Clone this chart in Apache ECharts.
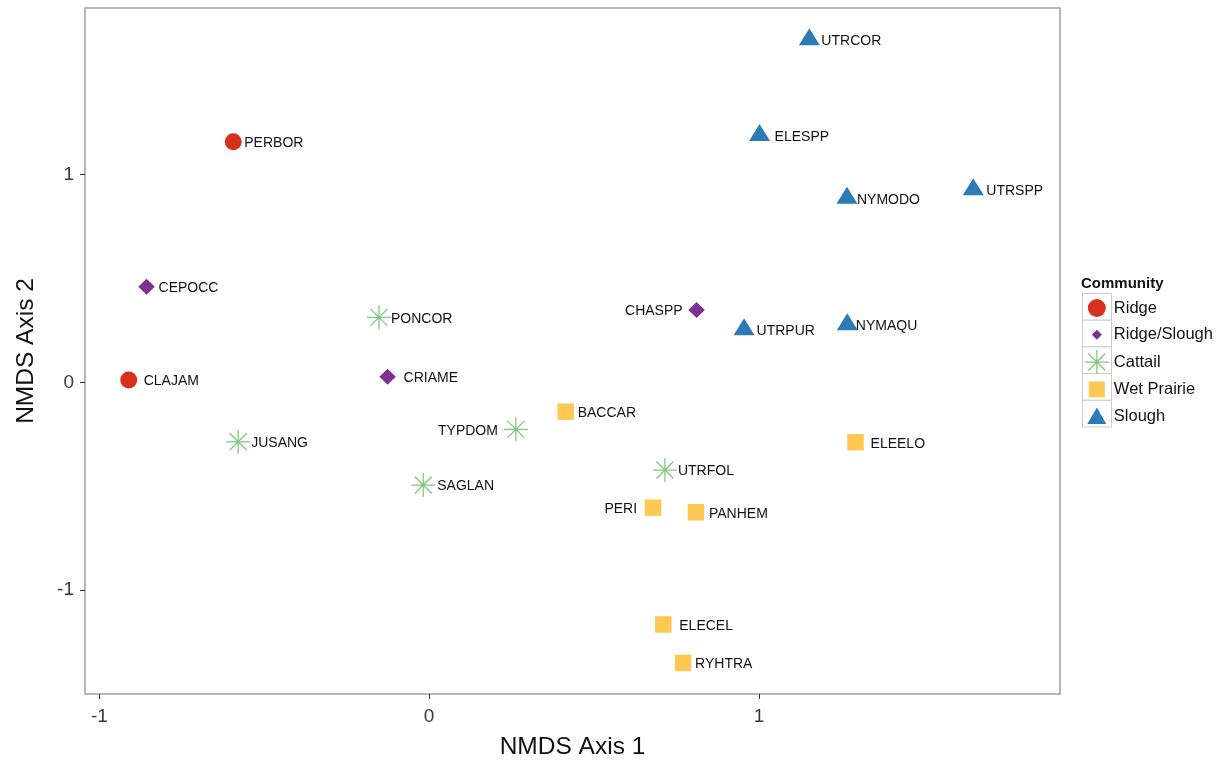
<!DOCTYPE html>
<html>
<head>
<meta charset="utf-8">
<script src="https://cdn.jsdelivr.net/npm/echarts@6/dist/echarts.min.js"></script>
<style>
html,body{margin:0;padding:0;background:#fff;}
#chart{width:1221px;height:761px;}
</style>
</head>
<body>
<div id="chart"></div>
<script>
// ---- data ----
const communities = ['Ridge', 'Ridge/Slough', 'Cattail', 'Wet Prairie', 'Slough'];
const species = ['PERBOR','CLAJAM','CEPOCC','CRIAME','CHASPP','PONCOR','JUSANG','TYPDOM','SAGLAN','UTRFOL',
                 'BACCAR','ELEELO','PERI','PANHEM','ELECEL','RYHTRA','UTRCOR','ELESPP','NYMODO','UTRSPP','UTRPUR','NYMAQU'];
const axis1 = [-0.594,-0.911,-0.857,-0.126,0.811,-0.152,-0.579,0.263,-0.018,0.715,
               0.414,1.293,0.679,0.809,0.710,0.770,1.153,1.002,1.267,1.650,0.955,1.268];
const axis2 = [1.159,0.012,0.461,0.027,0.349,0.313,-0.286,-0.226,-0.494,-0.422,
               -0.141,-0.288,-0.603,-0.625,-1.165,-1.350,1.651,1.189,0.888,0.929,0.255,0.279];
const community = ['Ridge','Ridge','Ridge/Slough','Ridge/Slough','Ridge/Slough','Cattail','Cattail','Cattail','Cattail','Cattail',
                   'Wet Prairie','Wet Prairie','Wet Prairie','Wet Prairie','Wet Prairie','Wet Prairie',
                   'Slough','Slough','Slough','Slough','Slough','Slough'];
const tickValues = [-1, 0, 1];
const xTitle = 'NMDS Axis 1';
const yTitle = 'NMDS Axis 2';
const legendTitle = 'Community';

// ---- styling ----
const FONT = '"Liberation Sans", Arial, sans-serif';
const colors = {'Ridge':'#d7301f','Ridge/Slough':'#7b3294','Cattail':'#7fc97f','Wet Prairie':'#fec853','Slough':'#2c7bb6'};
const asterisk = 'path://M0,12 L24,12 M12,0 L12,24 M3.5,3.5 L20.5,20.5 M20.5,3.5 L3.5,20.5';
const symbols = {
  'Ridge': {symbol:'circle', size:17, offset:[0,0]},
  'Ridge/Slough': {symbol:'diamond', size:[16.5,16], offset:[0,0]},
  'Cattail': {symbol:asterisk, size:24, offset:[0,0]},
  'Wet Prairie': {symbol:'rect', size:16.5, offset:[0,0]},
  'Slough': {symbol:'triangle', size:[21,17], offset:[0,-2.83]}
};
// horizontal label nudge (px) from point; negative = label on the left
const labelDx = {PERBOR:11,CLAJAM:15,CEPOCC:12,CRIAME:16,CHASPP:-14,PONCOR:12,JUSANG:13,TYPDOM:-18,SAGLAN:14,UTRFOL:13,
  BACCAR:12,ELEELO:15,PERI:-16,PANHEM:13,ELECEL:16,RYHTRA:12,UTRCOR:12,ELESPP:15,NYMODO:10,UTRSPP:13,UTRPUR:12.5,NYMAQU:8.5};
const legendIcons = {
  'Ridge':'path://M0,0 M24,24 M3,12 A9,9 0 1,1 21,12 A9,9 0 1,1 3,12 Z',
  'Ridge/Slough':'path://M0,0 M24,24 M12,7 L17,12 L12,17 L7,12 Z',
  'Cattail':asterisk,
  'Wet Prairie':'path://M0,0 M24,24 M4,4 L20,4 L20,20 L4,20 Z',
  'Slough':'path://M0,0 M24,24 M12,3.5 L21.5,20 L2.5,20 Z'
};

const series = communities.map(function(c){
  const s = symbols[c];
  const data = [];
  species.forEach(function(n, i){
    if (community[i] !== c) return;
    const dx = labelDx[n];
    const dy = 1.5 - s.offset[1] + (c === 'Slough' ? 0.5 : 0);
    data.push({name:n, value:[axis1[i], axis2[i]],
      label:{align: dx < 0 ? 'right' : 'left', offset:[dx, dy]}});
  });
  const st = {color: colors[c], opacity:1};
  if (c === 'Cattail') { st.borderColor = colors[c]; st.borderWidth = 1.3; }
  return {
    name:c, type:'scatter', data:data,
    symbol:s.symbol, symbolSize:s.size, symbolOffset:s.offset,
    itemStyle:st,
    label:{show:true, position:'inside', formatter:'{b}', verticalAlign:'middle',
      fontFamily:FONT, fontSize:14, color:'#111'},
    emphasis:{disabled:true}
  };
});

const chart = echarts.init(document.getElementById('chart'), null, {renderer:'canvas'});
const legendBoxes = communities.map(function(c, i){
  return {type:'rect', left:1082, top:293 + i*26.7, shape:{width:29, height:26.7},
    style:{fill:'#fff', stroke:'#cccccc', lineWidth:1}, z:0};
});
chart.setOption({
  animation:false,
  backgroundColor:'#fff',
  title:{text:legendTitle, left:1081, top:276.5, padding:0,
    textStyle:{fontFamily:FONT, fontSize:15, fontWeight:'bold', color:'#111'}},
  legend:{orient:'vertical', left:1084.2, top:296, padding:0, itemWidth:24, itemHeight:24, itemGap:2.7,
    selectedMode:false,
    textStyle:{fontFamily:FONT, fontSize:16.5, color:'#111'},
    data:communities.map(function(c){
      const d = {name:c, icon:legendIcons[c]};
      if (c === 'Cattail') d.itemStyle = {borderWidth:1.3, borderColor:colors[c]};
      return d;
    })},
  graphic:legendBoxes,
  grid:{left:85, top:8, right:161, bottom:67, show:true, borderColor:'#a0a0a0', borderWidth:1.5,
    backgroundColor:'#fff', containLabel:false, outerBoundsMode:'none'},
  xAxis:{type:'value', min:-1.0436, max:1.913,
    name:xTitle, nameLocation:'middle', nameGap:41,
    nameTextStyle:{fontFamily:FONT, fontSize:24.5, color:'#111'},
    axisLine:{show:false, onZero:false}, splitLine:{show:false},
    axisTick:{show:true, length:5, customValues:tickValues, lineStyle:{color:'#333', width:1}},
    axisLabel:{customValues:tickValues, fontFamily:FONT, fontSize:19, margin:13, color:'#3a3a3a'}},
  yAxis:{type:'value', min:-1.5, max:1.8026,
    name:yTitle, nameLocation:'middle', nameGap:46,
    nameTextStyle:{fontFamily:FONT, fontSize:24.5, color:'#111'},
    axisLine:{show:false, onZero:false}, splitLine:{show:false},
    axisTick:{show:true, length:5, customValues:tickValues, lineStyle:{color:'#333', width:1}},
    axisLabel:{customValues:tickValues, fontFamily:FONT, fontSize:19, margin:11, color:'#3a3a3a'}},
  series:series
});
</script>
</body>
</html>
